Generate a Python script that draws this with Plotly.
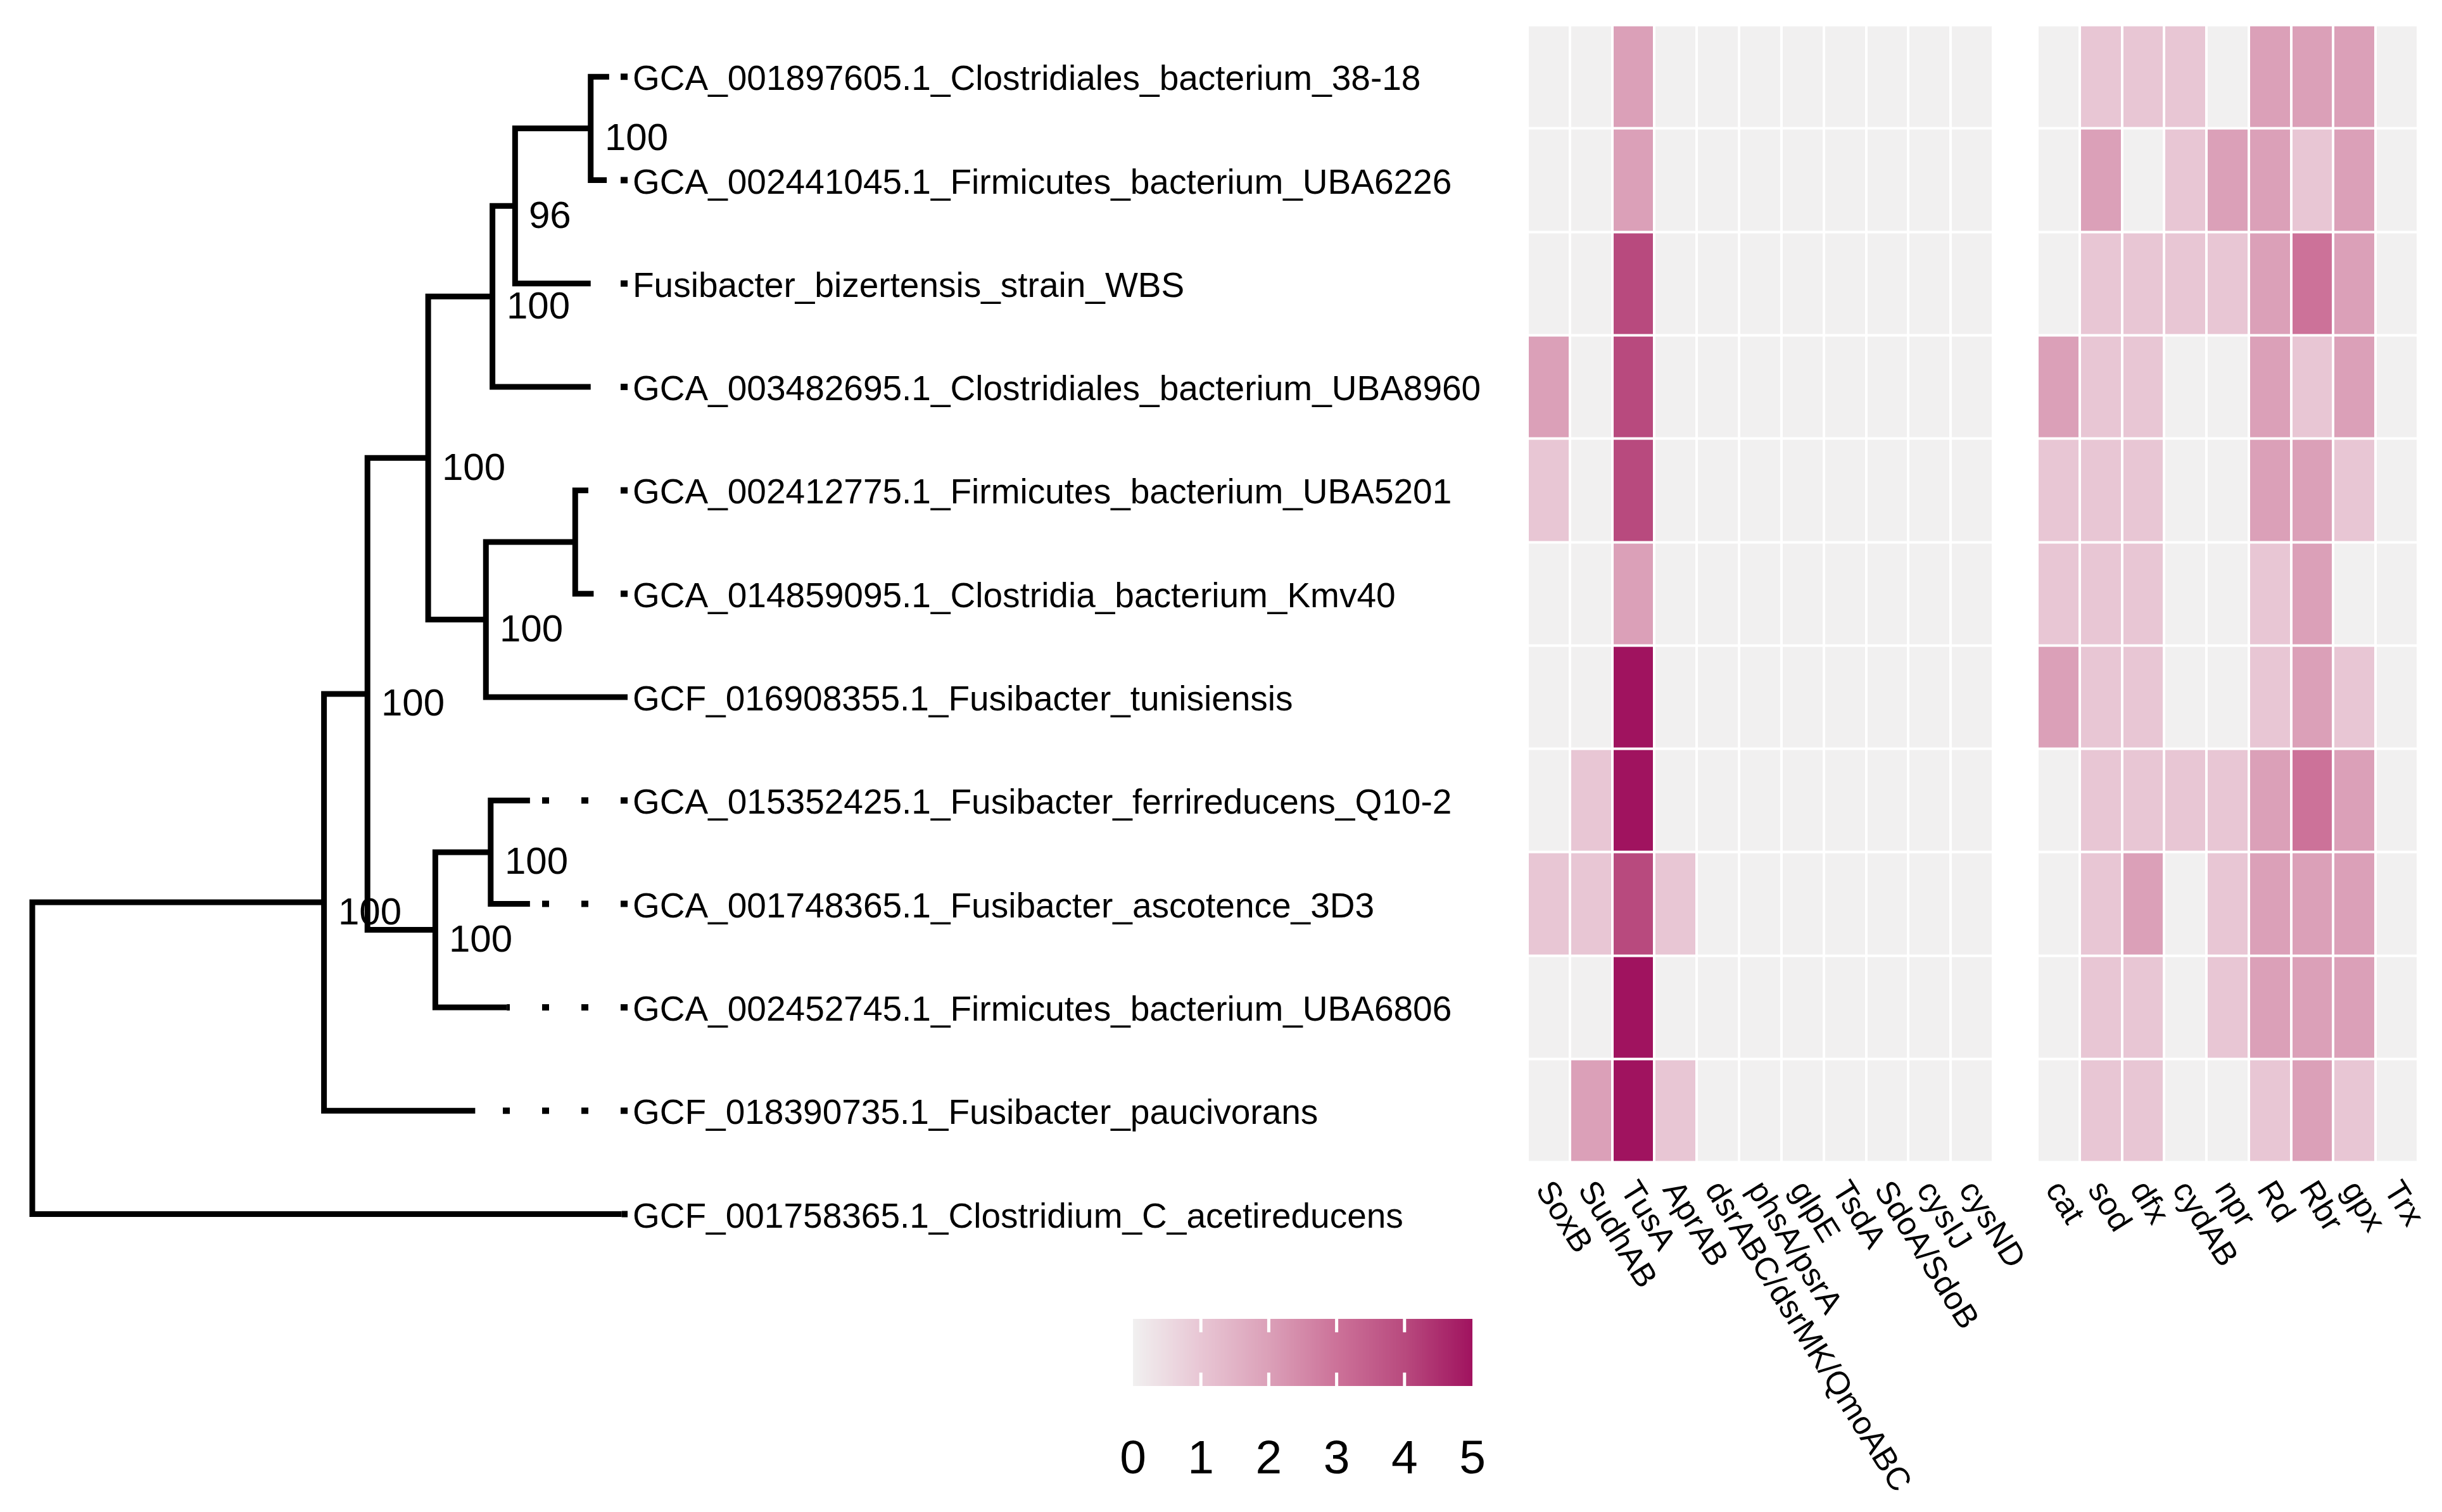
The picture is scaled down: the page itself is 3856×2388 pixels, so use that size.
import plotly.graph_objects as go

W, H = 3856, 2388
FONT = "Liberation Sans, Arial, Helvetica, sans-serif"

# ---------------- data ----------------
tip_labels = [
    "GCA_001897605.1_Clostridiales_bacterium_38-18",
    "GCA_002441045.1_Firmicutes_bacterium_UBA6226",
    "Fusibacter_bizertensis_strain_WBS",
    "GCA_003482695.1_Clostridiales_bacterium_UBA8960",
    "GCA_002412775.1_Firmicutes_bacterium_UBA5201",
    "GCA_014859095.1_Clostridia_bacterium_Kmv40",
    "GCF_016908355.1_Fusibacter_tunisiensis",
    "GCA_015352425.1_Fusibacter_ferrireducens_Q10-2",
    "GCA_001748365.1_Fusibacter_ascotence_3D3",
    "GCA_002452745.1_Firmicutes_bacterium_UBA6806",
    "GCF_018390735.1_Fusibacter_paucivorans",
    "GCF_001758365.1_Clostridium_C_acetireducens",
]
# cumulative distance from root (relative units)
tip_depth = [0.969, 0.965, 0.938, 0.938, 0.934, 0.943, 1.0, 0.836, 0.836, 0.797, 0.744, 0.99]

# internal nodes: children (tip numbers are 1-based ints), depth, support
node_children = {
    "root": ["J", 12],
    "J": ["G", 11],
    "G": ["D", "H"],
    "D": ["C", "E"],
    "C": ["B", 4],
    "B": ["A", 3],
    "A": [1, 2],
    "E": ["F", 7],
    "F": [5, 6],
    "H": ["I", 10],
    "I": [8, 9],
}
node_depth = {"root": 0.0, "J": 0.490, "G": 0.563, "D": 0.665, "C": 0.773,
              "B": 0.811, "A": 0.938, "E": 0.762, "F": 0.912, "H": 0.677, "I": 0.770}
node_support = {"J": "100", "G": "100", "D": "100", "C": "100", "B": "96",
                "A": "100", "E": "100", "H": "100", "I": "100"}

sulfur_genes = ["SoxB", "SudhAB", "TusA", "AprAB", "dsrABC/dsrMK/QmoABC", "phsA/psrA",
                "glpE", "TsdA", "SdoA/SdoB", "cysIJ", "cysND"]
sulfur_counts = [
    [0, 0, 2, 0, 0, 0, 0, 0, 0, 0, 0],
    [0, 0, 2, 0, 0, 0, 0, 0, 0, 0, 0],
    [0, 0, 4, 0, 0, 0, 0, 0, 0, 0, 0],
    [2, 0, 4, 0, 0, 0, 0, 0, 0, 0, 0],
    [1, 0, 4, 0, 0, 0, 0, 0, 0, 0, 0],
    [0, 0, 2, 0, 0, 0, 0, 0, 0, 0, 0],
    [0, 0, 5, 0, 0, 0, 0, 0, 0, 0, 0],
    [0, 1, 5, 0, 0, 0, 0, 0, 0, 0, 0],
    [1, 1, 4, 1, 0, 0, 0, 0, 0, 0, 0],
    [0, 0, 5, 0, 0, 0, 0, 0, 0, 0, 0],
    [0, 2, 5, 1, 0, 0, 0, 0, 0, 0, 0],
]
stress_genes = ["cat", "sod", "dfx", "cydAB", "npr", "Rd", "Rbr", "gpx", "Trx"]
stress_counts = [
    [0, 1, 1, 1, 0, 2, 2, 2, 0],
    [0, 2, 0, 1, 2, 2, 1, 2, 0],
    [0, 1, 1, 1, 1, 2, 3, 2, 0],
    [2, 1, 1, 0, 0, 2, 1, 2, 0],
    [1, 1, 1, 0, 0, 2, 2, 1, 0],
    [1, 1, 1, 0, 0, 1, 2, 0, 0],
    [2, 1, 1, 0, 0, 1, 2, 1, 0],
    [0, 1, 1, 1, 1, 2, 3, 2, 0],
    [0, 1, 2, 0, 1, 2, 2, 2, 0],
    [0, 1, 1, 0, 1, 2, 2, 2, 0],
    [0, 1, 1, 0, 0, 1, 2, 1, 0],
]
legend_ticks = [0, 1, 2, 3, 4, 5]

colorscale = [[0.0, "#F1F0F0"], [0.2, "#E8C6D4"], [0.4, "#DBA0B8"],
              [0.6, "#CC7299"], [0.8, "#B84A7E"], [1.0, "#A0135F"]]

# ---------------- layout geometry (px) ----------------
TREE_X0, TREE_X1 = 51, 991          # px of depth 0 and depth 1
ROW0, ROWH = 121.2, 163.3           # px centre of first row, row pitch
HM1 = (2412, 3147)
HM2 = (3217, 3818)
HM_BOTTOM = ROW0 + 10.5 * ROWH
CB_LEFT, CB_RIGHT, CB_TOP, CB_THICK = 1789, 2325, 2083, 106

xr = [(0 - TREE_X0) / (TREE_X1 - TREE_X0), (W - TREE_X0) / (TREE_X1 - TREE_X0)]
yr = [1 + (H - ROW0) / ROWH, 1 - ROW0 / ROWH]

# ---------------- tree coordinates ----------------
def ypos(n):
    if isinstance(n, int):
        return float(n)
    c = node_children[n]
    return (ypos(c[0]) + ypos(c[1])) / 2.0

def depth(n):
    return tip_depth[n - 1] if isinstance(n, int) else node_depth[n]

fig = go.Figure()

xs, ys = [], []
for n, (c1, c2) in node_children.items():
    xs += [depth(c1), depth(n), depth(n), depth(c2), None]
    ys += [ypos(c1), ypos(c1), ypos(c2), ypos(c2), None]
fig.add_trace(go.Scatter(x=xs, y=ys, mode="lines", line=dict(color="black", width=9),
                         hoverinfo="skip", showlegend=False))

# dotted alignment guides
for i, d in enumerate(tip_depth, start=1):
    if d < 0.999:
        fig.add_trace(go.Scatter(x=[1.0, d], y=[i, i], mode="lines",
                                 line=dict(color="black", width=10, dash="11px,51px"),
                                 hoverinfo="skip", showlegend=False))

annotations = []
for i, lab in enumerate(tip_labels, start=1):
    annotations.append(dict(x=1.0, y=i, xref="x", yref="y", text=lab, showarrow=False,
                            xanchor="left", yanchor="middle", xshift=6, yshift=-2,
                            font=dict(family=FONT, size=55, color="black")))
for n, s in node_support.items():
    annotations.append(dict(x=depth(n), y=ypos(n), xref="x", yref="y", text=s, showarrow=False,
                            xanchor="left", yanchor="middle", xshift=20, yshift=-14,
                            font=dict(family=FONT, size=60, color="black")))

# ---------------- heatmaps ----------------
rows = list(range(1, len(sulfur_counts) + 1))
fig.add_trace(go.Heatmap(z=sulfur_counts, x=sulfur_genes, y=rows, xaxis="x2", yaxis="y",
                         coloraxis="coloraxis", xgap=4, ygap=4, hoverinfo="skip"))
fig.add_trace(go.Heatmap(z=stress_counts, x=stress_genes, y=rows, xaxis="x3", yaxis="y",
                         coloraxis="coloraxis", xgap=4, ygap=4, hoverinfo="skip"))

# ---------------- legend bar (own axes) ----------------
n_steps = 300
lo, hi = legend_ticks[0], legend_ticks[-1]
bar_x = [lo + (hi - lo) * (k + 0.5) / n_steps for k in range(n_steps)]
fig.add_trace(go.Heatmap(z=[bar_x], x=bar_x, y=[0], xaxis="x4", yaxis="y4",
                         coloraxis="coloraxis", hoverinfo="skip"))

hm_pos = (H - HM_BOTTOM) / H
axis_common = dict(type="category", anchor="free", position=hm_pos, showgrid=False,
                   zeroline=False, showline=False, ticks="", tickangle=58,
                   ticklabelstandoff=3, automargin=False,
                   tickfont=dict(family=FONT, size=51, color="black"))

shapes = []
for v in legend_ticks[1:-1]:
    shapes.append(dict(type="line", xref="x4", yref="y4 domain", x0=v, x1=v, y0=1, y1=0.8,
                       line=dict(color="white", width=5), layer="above"))
    shapes.append(dict(type="line", xref="x4", yref="y4 domain", x0=v, x1=v, y0=0, y1=0.2,
                       line=dict(color="white", width=5), layer="above"))

cb_top_p = (H - CB_TOP) / H
cb_bot_p = (H - CB_TOP - CB_THICK) / H

fig.update_layout(
    width=W, height=H, margin=dict(l=0, r=0, t=0, b=0, pad=0), autosize=False,
    paper_bgcolor="white", plot_bgcolor="white", showlegend=False,
    xaxis=dict(domain=[0, 1], range=xr, visible=False, automargin=False),
    yaxis=dict(domain=[0, 1], range=yr, visible=False, automargin=False),
    xaxis2=dict(domain=[HM1[0] / W, HM1[1] / W], range=[-0.5, len(sulfur_genes) - 0.5], **axis_common),
    xaxis3=dict(domain=[HM2[0] / W, HM2[1] / W], range=[-0.5, len(stress_genes) - 0.5], **axis_common),
    xaxis4=dict(domain=[CB_LEFT / W, CB_RIGHT / W], range=[lo, hi], anchor="y4",
                tickvals=legend_ticks, ticks="", showgrid=False, zeroline=False, showline=False,
                ticklabelstandoff=62, automargin=False,
                tickfont=dict(family=FONT, size=75, color="black")),
    yaxis4=dict(domain=[cb_bot_p, cb_top_p], range=[-0.5, 0.5], anchor="x4", visible=False,
                automargin=False),
    coloraxis=dict(colorscale=colorscale, cmin=lo, cmax=hi, showscale=False),
    annotations=annotations, shapes=shapes,
)

fig.write_html("out.html", config={"displayModeBar": False},
               post_script="document.body.style.margin='0';document.body.style.overflow='hidden';")
